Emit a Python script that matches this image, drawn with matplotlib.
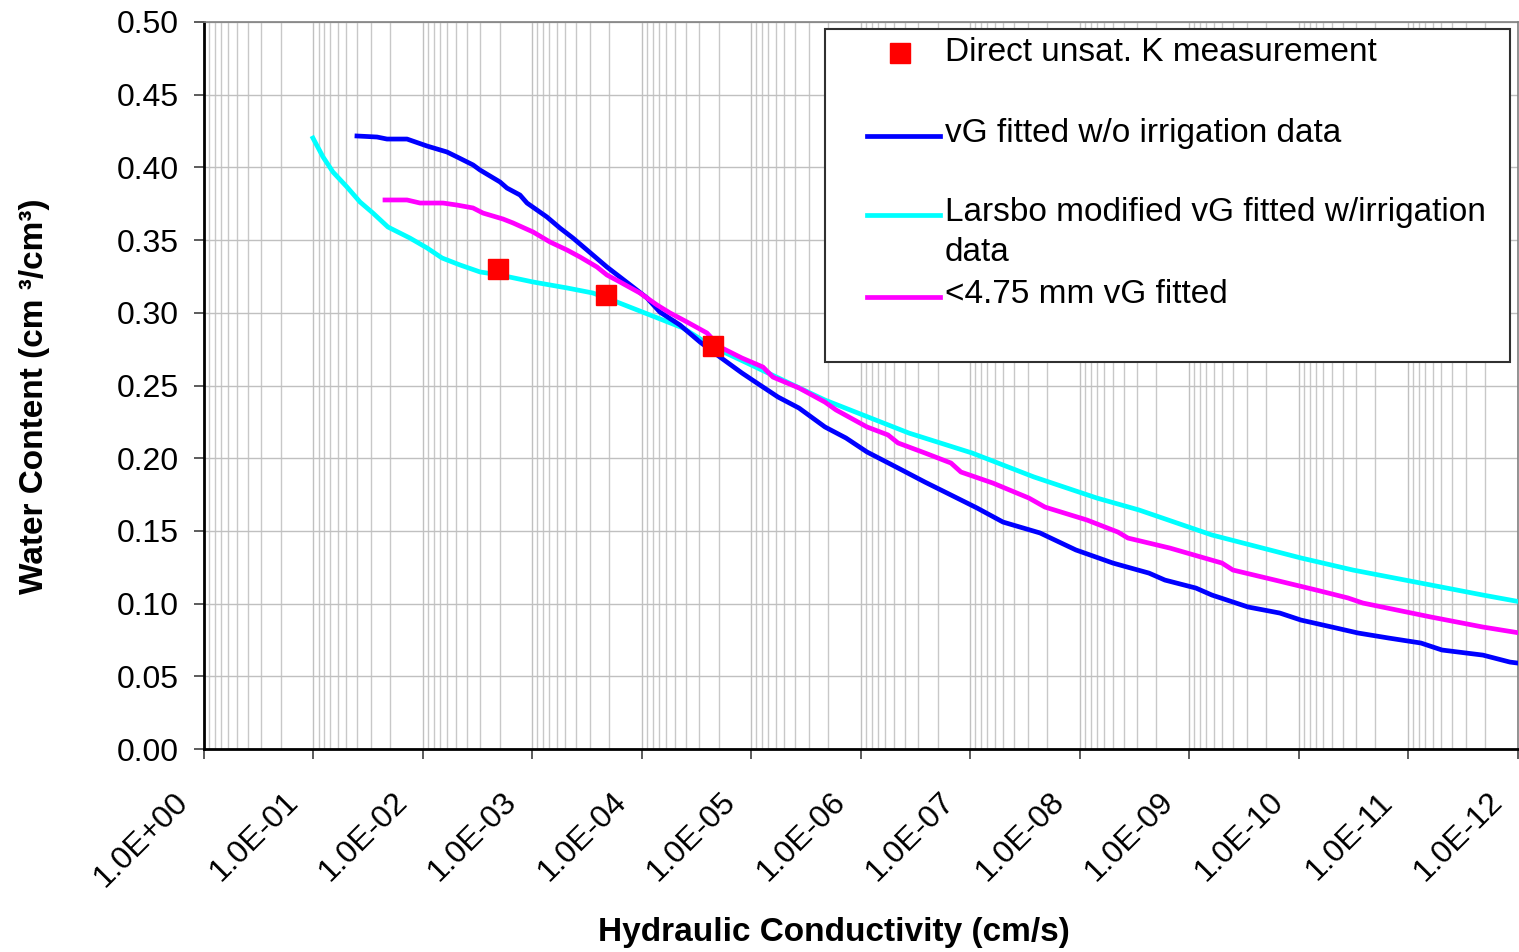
import numpy as np
import matplotlib
matplotlib.use("Agg")
import matplotlib.pyplot as plt
from matplotlib.ticker import LogLocator, FuncFormatter, MultipleLocator, NullFormatter, FixedLocator
from matplotlib.patches import Rectangle
from matplotlib.lines import Line2D

plt.rcParams["font.family"] = ["Liberation Sans", "DejaVu Sans"]

# ----------------------------
# dados (log10 K em cm/s, teor de água em cm3/cm3)
# ----------------------------
meas_logk = [-2.685, -3.671, -4.648]
meas_theta = [0.330, 0.312, 0.277]

vg_logk = [-1.397, -1.580, -1.671, -1.854, -2.037, -2.219, -2.311, -2.457, -2.521,
           -2.703, -2.767, -2.886, -2.950, -3.132, -3.251, -3.370, -3.498, -3.680,
           -3.799, -3.918, -4.046, -4.164, -4.347, -4.530, -4.712, -4.913, -5.050,
           -5.242, -5.434, -5.671, -5.863, -6.055, -6.338, -6.584, -6.822, -7.059,
           -7.297, -7.635, -7.772, -7.963, -8.301, -8.630, -8.776, -9.059, -9.205,
           -9.534, -9.826, -10.018, -10.301, -10.539, -10.822, -11.114, -11.306,
           -11.680, -11.927, -12.000]
vg_theta = [0.4216, 0.4209, 0.4195, 0.4195, 0.4147, 0.4106, 0.4072, 0.4017, 0.3982,
            0.3900, 0.3858, 0.3810, 0.3755, 0.3659, 0.3583, 0.3514, 0.3432, 0.3315,
            0.3246, 0.3177, 0.3102, 0.3005, 0.2916, 0.2799, 0.2696, 0.2586, 0.2517,
            0.2421, 0.2345, 0.2215, 0.2139, 0.2043, 0.1933, 0.1836, 0.1747, 0.1658,
            0.1561, 0.1486, 0.1437, 0.1369, 0.1279, 0.1210, 0.1162, 0.1107, 0.1059,
            0.0977, 0.0935, 0.0887, 0.0839, 0.0798, 0.0763, 0.0729, 0.0681,
            0.0646, 0.0598, 0.0591]

larsbo_logk = [-0.995, -1.087, -1.178, -1.306, -1.425, -1.543, -1.680, -1.881, -2.037,
               -2.174, -2.338, -2.521, -2.703, -3.005, -3.315, -3.553, -3.772, -4.073,
               -4.374, -4.648, -4.959, -5.151, -5.671, -6.438, -7.014, -7.580, -8.155,
               -8.539, -9.205, -10.018, -10.493, -11.205, -11.680, -12.000]
larsbo_theta = [0.4202, 0.4072, 0.3968, 0.3865, 0.3762, 0.3686, 0.3590, 0.3514, 0.3446,
                0.3377, 0.3329, 0.3281, 0.3260, 0.3212, 0.3171, 0.3136, 0.3074, 0.2985,
                0.2896, 0.2765, 0.2655, 0.2586, 0.2400, 0.2173, 0.2036, 0.1871, 0.1726,
                0.1644, 0.1472, 0.1314, 0.1231, 0.1128, 0.1059, 0.1015]

fine_logk = [-1.653, -1.854, -1.973, -2.183, -2.311, -2.457, -2.548, -2.731, -2.822,
             -3.005, -3.160, -3.315, -3.434, -3.589, -3.680, -3.799, -3.982, -4.137,
             -4.256, -4.411, -4.594, -4.712, -4.913, -5.105, -5.196, -5.434, -5.671,
             -5.772, -6.055, -6.247, -6.338, -6.584, -6.822, -6.913, -7.205, -7.534,
             -7.680, -8.064, -8.347, -8.438, -8.822, -9.297, -9.397, -9.781, -10.155,
             -10.447, -10.584, -11.205, -11.680, -12.000]
fine_theta = [0.3776, 0.3776, 0.3755, 0.3755, 0.3741, 0.3721, 0.3686, 0.3645, 0.3618,
              0.3556, 0.3487, 0.3432, 0.3384, 0.3315, 0.3260, 0.3212, 0.3136, 0.3054,
              0.2999, 0.2937, 0.2861, 0.2765, 0.2689, 0.2627, 0.2558, 0.2483, 0.2386,
              0.2332, 0.2215, 0.2160, 0.2105, 0.2036, 0.1967, 0.1905, 0.1829, 0.1726,
              0.1664, 0.1575, 0.1492, 0.1451, 0.1382, 0.1279, 0.1231, 0.1162, 0.1094,
              0.1039, 0.1004, 0.0908, 0.0839, 0.0800]

# ticks do eixo x (décadas) e seus rótulos
x_ticks = [1e0, 1e-1, 1e-2, 1e-3, 1e-4, 1e-5, 1e-6, 1e-7, 1e-8, 1e-9, 1e-10, 1e-11, 1e-12]
x_ticklabels = ["1.0E+00", "1.0E-01", "1.0E-02", "1.0E-03", "1.0E-04", "1.0E-05",
                "1.0E-06", "1.0E-07", "1.0E-08", "1.0E-09", "1.0E-10", "1.0E-11",
                "1.0E-12"]

labels = ["Direct unsat. K measurement",
          "vG fitted w/o irrigation data",
          "Larsbo modified vG fitted w/irrigation\ndata",
          "<4.75 mm vG fitted"]

C_MEAS = "#ff0000"
C_VG = "#0000ff"
C_LARSBO = "#00ffff"
C_FINE = "#ff00ff"


def k(logk):
    return 10.0 ** np.asarray(logk)


fig = plt.figure(figsize=(15.19, 9.52), dpi=100)
ax = fig.add_axes([0.1343, 0.2132, 0.8650, 0.7637])

ax.plot(k(larsbo_logk), larsbo_theta, color=C_LARSBO, lw=3.4, zorder=3)
ax.plot(k(vg_logk), vg_theta, color=C_VG, lw=3.4, zorder=4)
ax.plot(k(fine_logk), fine_theta, color=C_FINE, lw=3.4, zorder=5)
ax.plot(k(meas_logk), meas_theta, "s", color=C_MEAS, ms=14.5, mec=C_MEAS, zorder=6)

# eixo x log invertido
ax.set_xscale("log")
ax.set_xlim(1.0, 1e-12)
ax.xaxis.set_major_locator(FixedLocator(x_ticks))
ax.xaxis.set_minor_locator(LogLocator(base=10, subs=np.arange(2, 10), numticks=30))
ax.xaxis.set_minor_formatter(NullFormatter())
ax.xaxis.set_major_formatter(NullFormatter())

ax.set_ylim(0, 0.5)
ax.yaxis.set_major_locator(MultipleLocator(0.05))
ax.yaxis.set_major_formatter(FuncFormatter(lambda v, p: f"{v:.2f}"))

ax.grid(True, which="major", axis="both", color="#c0c0c0", lw=1.0, zorder=0)
ax.grid(True, which="minor", axis="x", color="#c8c8c8", lw=1.0, zorder=0)
ax.set_axisbelow(True)

ax.tick_params(axis="both", which="major", direction="out", length=7, width=1.2,
               color="#404040", labelsize=23)
ax.tick_params(axis="y", which="major", pad=11)
ax.tick_params(axis="x", which="minor", length=0)

# rótulos do eixo x em 45°, um pouco à esquerda e abaixo de cada tick
for v, lab in zip(x_ticks, x_ticklabels):
    ax.annotate(lab, (v, 0), xycoords=("data", "axes fraction"),
                xytext=(-14.4, -35.0), textcoords="offset points",
                rotation=45, ha="right", va="center", rotation_mode="anchor",
                fontsize=23, annotation_clip=False)

for s in ("left", "bottom"):
    ax.spines[s].set_color("black")
    ax.spines[s].set_linewidth(2.0)
for s in ("top", "right"):
    ax.spines[s].set_color("#808080")
    ax.spines[s].set_linewidth(1.2)

fig.text(0.549, 0.021, "Hydraulic Conductivity (cm/s)", ha="center", va="center",
         fontsize=24, fontweight="bold")
fig.text(0.023, 0.584, "Water Content (cm \u00b3/cm\u00b3)", ha="center", va="center",
         rotation=90, fontsize=24, fontweight="bold")

# legenda desenhada à mão (coordenadas do eixo)
tr = ax.transAxes
ax.add_patch(Rectangle((0.4726, 0.5323), 0.5213, 0.4581, transform=tr,
                       facecolor="white", edgecolor="#303030", lw=1.5,
                       zorder=10, clip_on=False))
ax.add_line(Line2D([0.5297], [0.9574], marker="s", ms=14.5, color=C_MEAS,
                   transform=tr, zorder=11, clip_on=False))
for y, c in [(0.8436, C_VG), (0.7345, C_LARSBO), (0.6217, C_FINE)]:
    ax.add_line(Line2D([0.5045, 0.5601], [y, y], color=c, lw=3.4,
                       transform=tr, zorder=11, clip_on=False))
# linhas de base de cada entrada; a terceira quebra em duas linhas
baselines = [0.9464, 0.8349, 0.7263, 0.6135]
for y, lab in zip(baselines, labels):
    parts = lab.split("\n")
    for i, part in enumerate(parts):
        ax.text(0.5639, y - i * 0.0551, part, transform=tr, fontsize=24,
                ha="left", va="baseline", zorder=12)

fig.savefig("out.png", dpi=100)
